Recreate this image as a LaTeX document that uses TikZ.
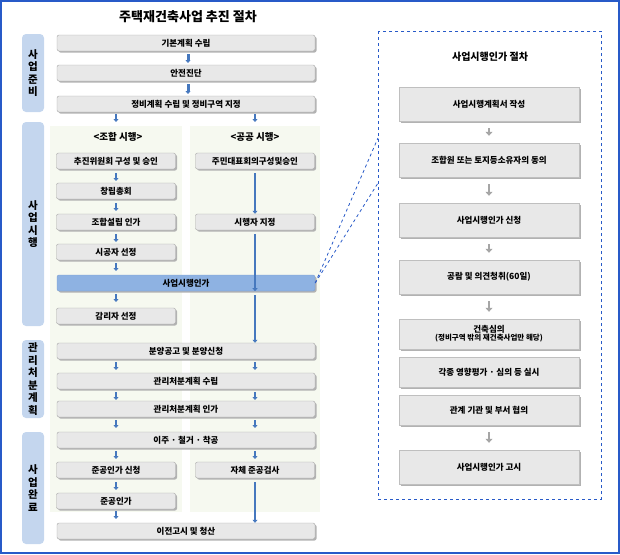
\documentclass[tikz,border=0pt]{standalone}
\usepackage{fontspec}
\setmainfont{Noto Sans CJK KR}
\usetikzlibrary{arrows.meta}
\definecolor{stepgray}{RGB}{232,232,232}
\definecolor{stageblue}{RGB}{196,214,238}
\definecolor{keyblue}{RGB}{142,178,226}
\definecolor{panelgreen}{RGB}{246,249,240}
\definecolor{arrowblue}{RGB}{70,120,190}
\definecolor{framelink}{RGB}{40,90,200}
\tikzset{
  stepbox/.style={draw=gray!70, fill=stepgray, rounded corners=2pt, minimum height=16pt, inner sep=0pt, font=\fontsize{8.5}{9}\selectfont\bfseries, drop},
  drop/.style={preaction={fill=gray!60, transform canvas={xshift=1.5pt, yshift=-1.5pt}}},
  stagebox/.style={fill=stageblue, rounded corners=4pt, minimum width=22pt, inner sep=0pt, align=center, font=\fontsize{10.5}{12.5}\selectfont\bfseries},
  authbox/.style={draw=gray!50, fill=stepgray, minimum width=180pt, inner sep=0pt, align=center, font=\fontsize{8.5}{10}\selectfont\bfseries, drop},
  ->-/.style={-{Triangle[length=3pt,width=5pt]}, arrowblue, line width=1.6pt},
  gray->/.style={-{Triangle[length=4pt,width=7pt]}, gray!70, line width=2.5pt},
}
\begin{document}
\begin{tikzpicture}[x=1pt,y=-1pt]
\useasboundingbox (0,0) rectangle (620,554);
\draw[framelink, line width=1.2pt] (1,1) rectangle (619,553);
\node[font=\fontsize{13}{15}\selectfont\bfseries] (title) at (188,17) {주택재건축사업 추진 절차};
% stages
\node[stagebox, minimum height=78pt] (s1) at (33,73) {사\\업\\준\\비};
\node[stagebox, minimum height=204pt] (s2) at (33,224) {사\\업\\시\\행};
\node[stagebox, minimum height=78pt] (s3) at (33,379) {관\\리\\처\\분\\계\\획};
\node[stagebox, minimum height=112pt] (s4) at (33,488) {사\\업\\완\\료};
% panels
\fill[panelgreen] (50,126) rectangle (182,512);
\fill[panelgreen] (190,126) rectangle (320,512);
\node[font=\fontsize{9.5}{11}\selectfont\bfseries] (hjohap) at (118,137) {<조합 시행>};
\node[font=\fontsize{9.5}{11}\selectfont\bfseries] (hpublic) at (255,137) {<공공 시행>};
% full width steps
\node[stepbox, minimum width=258pt] (plan) at (186,43) {기본계획 수립};
\node[stepbox, minimum width=258pt] (safe) at (186,73) {안전진단};
\node[stepbox, minimum width=258pt] (zone) at (186,104) {정비계획 수립 및 정비구역 지정};
\node[stepbox, minimum width=258pt, fill=keyblue, draw=arrowblue!70] (approve) at (186,283) {사업시행인가};
\node[stepbox, minimum width=258pt] (sale) at (186,351) {분양공고 및 분양신청};
\node[stepbox, minimum width=258pt] (mplan) at (186,381) {관리처분계획 수립};
\node[stepbox, minimum width=258pt] (mok) at (186,409) {관리처분계획 인가};
\node[stepbox, minimum width=258pt] (move) at (186,440) {이주 · 철거 · 착공};
\node[stepbox, minimum width=258pt] (transfer) at (186,531) {이전고시 및 청산};
% left column
\node[stepbox, minimum width=119pt] (prep) at (116,161) {추진위원회 구성 및 승인};
\node[stepbox, minimum width=119pt] (meet) at (116,191) {창립총회};
\node[stepbox, minimum width=119pt] (union) at (116,222) {조합설립 인가};
\node[stepbox, minimum width=119pt] (builder) at (116,252) {시공자 선정};
\node[stepbox, minimum width=119pt] (super) at (116,316) {감리자 선정};
\node[stepbox, minimum width=119pt] (doneask) at (116,470) {준공인가 신청};
\node[stepbox, minimum width=119pt] (done) at (116,501) {준공인가};
% right column
\node[stepbox, minimum width=119pt] (resid) at (255,161) {주민대표회의구성및승인};
\node[stepbox, minimum width=119pt] (exec) at (255,222) {시행자 지정};
\node[stepbox, minimum width=119pt] (selfdone) at (255,470) {자체 준공검사};
% arrows
\draw[->-, line width=3pt] (188,54) -- (188,63);
\draw[->-, line width=3pt] (188,84) -- (188,94);
\foreach \y in {114,173,203,234,263,294,362,392,420,451,482,511}
  \draw[->-] (116,\y) -- (116,\y+8);
\foreach \y in {114,362,392,420,451}
  \draw[->-] (255,\y) -- (255,\y+8);
\draw[->-] (255,173) -- (exec.north);
\draw[->-] (255,234) -- (approve.south -| exec.south);
\draw[->-] (255,295) -- (sale.north -| exec.south);
\draw[->-] (255,482) -- (transfer.north -| exec.south);
% authorization procedure
\draw[framelink, dashed, thick] (378,31) rectangle (601,499);
\draw[framelink, dashed, thick] (approve.east) -- (378,138);
\draw[framelink, dashed, thick] (approve.east) -- (378,183);
\node[font=\fontsize{10}{12}\selectfont\bfseries] (atitle) at (490,57) {사업시행인가 절차};
\node[authbox, minimum height=34pt] (a1) at (489,104) {사업시행계획서 작성};
\node[authbox, minimum height=34pt] (a2) at (489,160) {조합원 또는 토지등소유자의 동의};
\node[authbox, minimum height=34pt] (a3) at (489,220) {사업시행인가 신청};
\node[authbox, minimum height=34pt] (a4) at (489,277) {공람 및 의견청취(60일)};
\node[authbox, minimum height=30pt] (a5) at (489,334) {건축심의\\[-2pt]{\fontsize{7.5}{8}\selectfont(정비구역 밖의 재건축사업만 해당)}};
\node[authbox, minimum height=30pt] (a6) at (489,372) {각종 영향평가 · 심의 등 실시};
\node[authbox, minimum height=30pt] (a7) at (489,410) {관계 기관 및 부서 협의};
\node[authbox, minimum height=34pt] (a8) at (489,467) {사업시행인가 고시};
\foreach \a/\b in {a1/a2, a2/a3, a3/a4, a4/a5, a7/a8}
  \draw[gray->] ([yshift=-7pt]\a.south) -- ([yshift=7pt]\b.north);
\end{tikzpicture}
\end{document}
